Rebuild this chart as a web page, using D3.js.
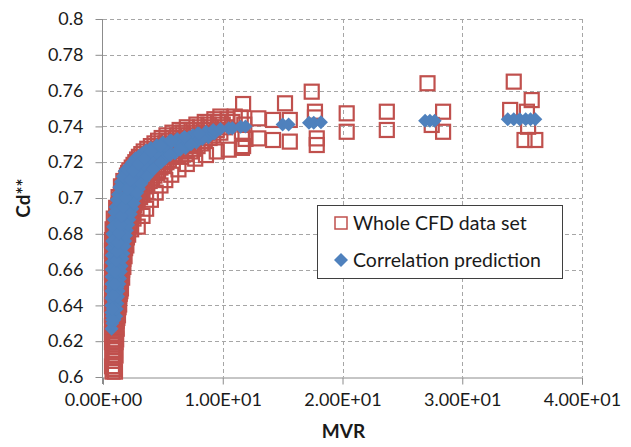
<!DOCTYPE html>
<html>
<head>
<meta charset="utf-8">
<script src="https://cdn.jsdelivr.net/npm/d3@7"></script>
<style>
html,body{margin:0;padding:0;background:#fff;}
svg{display:block;}
text{font-family:Lato,"Open Sans",sans-serif;fill:#1a1a1a;}
</style>
</head>
<body>
<svg id="chart" width="631" height="447"></svg>
<script>
// ---- data ----
const xTicks = [0, 10, 20, 30, 40];
const xTickLabels = ["0.00E+00", "1.00E+01", "2.00E+01", "3.00E+01", "4.00E+01"];
const yTicks = [0.6, 0.62, 0.64, 0.66, 0.68, 0.7, 0.72, 0.74, 0.76, 0.78, 0.8];
const yTickLabels = ["0.6", "0.62", "0.64", "0.66", "0.68", "0.7", "0.72", "0.74", "0.76", "0.78", "0.8"];
const seriesNames = ["Whole CFD data set", "Correlation prediction"];
const xTitle = "MVR";
const yTitle = "Cd**";

// Whole CFD data set (MVR, Cd**)
const cfdX = [
 0.8,1.0, 0.75,0.95, 0.85, 0.8,1.05, 0.78,1.0, 0.9, 0.8,1.1, 0.75,1.0, 0.85,1.15, 0.8,1.05,
 0.9,1.2, 0.78,1.1, 0.95,1.3, 0.8,1.2, 0.9,1.35, 0.78,1.15,1.45, 0.95,1.3, 0.8,1.2,1.5,
 0.9,1.4, 0.78,1.15,1.6, 1.0,1.45, 0.85,1.25,1.7, 0.8,1.05,1.55, 0.9,1.35,1.85,
 0.8,1.15,1.65, 0.95,1.45,2.0, 0.9,1.25,1.8, 1.0,1.55,2.2, 1.05,1.4,1.95, 1.15,1.7,2.4,
 1.2,1.55,2.15, 1.3,1.9,2.6, 1.4,1.75,2.35,2.9, 1.5,2.1,2.75,3.3, 1.6,2.0,2.55,3.1,
 1.8,2.3,3.0,3.7, 1.95,2.6,3.4,4.1, 2.1,2.8,3.6,4.5, 2.4,3.1,3.9,4.8, 2.7,3.5,4.3,5.3,
 3.0,3.9,4.8,5.8,6.5, 3.4,4.3,5.3,6.3,7.3, 4.0,4.9,5.8,6.8,7.9, 4.6,5.5,6.4,7.5,8.5,
 5.3,6.2,7.1,8.2,9.2, 6.4,7.4,8.4,9.5, 7.8,8.8,10.0, 9.3,10.4,
 0.9, 0.95, 0.9, 0.75,1.05, 0.95, 0.75,1.05, 0.85,1.15, 0.75,1.0,1.25, 0.85,1.2, 0.75,1.05,1.35,
 0.85,1.25, 0.75,1.05,1.4, 0.85,1.25,1.5, 0.75,1.05,1.4, 0.85,1.3,1.6, 0.75,1.05,1.5,
 0.9,1.3,1.7, 0.75,1.1,1.55, 0.95,1.4,1.8, 0.75,1.2,1.65, 1.0,1.5,1.95, 0.75,1.3,1.8,
 1.1,1.6,2.1, 0.8,1.4,1.95,2.35, 1.2,1.7,2.3, 0.9,1.5,2.1,2.55, 1.3,1.85,2.5,
 1.1,1.65,2.25,2.8, 1.35,2.0,2.7, 1.3,1.9,2.5,3.1, 1.7,2.3,2.95,3.6, 1.5,2.2,2.8,3.45,
 1.7,2.45,3.2,3.9, 2.0,2.7,3.5,4.3, 2.2,2.95,3.75,4.6, 2.55,3.3,4.1,5.0, 2.85,3.7,4.55,5.5,
 3.2,4.1,5.0,6.0,6.9, 3.7,4.6,5.5,6.5,7.6, 4.3,5.2,6.1,7.1,8.2, 4.9,5.8,6.8,7.8,8.9,
 5.8,6.7,7.7,8.7,9.8, 7.0,8.1,9.0,10.2, 8.5,9.6,10.8, 9.8,11.0,
 2.9,3.3,3.6,4.0,4.4,4.8,5.2,5.7,6.3,7.0,7.7,8.6,9.5,10.5,11.6,
 11.7,11.5,11.8,11.6,11.9,11.7,12.97,12.97,14.2,14.2,15.2,15.6,15.6,17.43,17.7,17.7,17.85,17.85,
 20.35,20.35,23.7,23.7,27.1,27.45,28.4,28.4,34.3,34.0,35.8,35.4,35.2,36.1,35.5
];
const cfdY = [
 0.603,0.603, 0.606,0.606, 0.609, 0.612,0.612, 0.615,0.615, 0.618, 0.621,0.621, 0.624,0.624, 0.627,0.627, 0.630,0.630,
 0.633,0.633, 0.636,0.636, 0.639,0.639, 0.642,0.642, 0.645,0.645, 0.648,0.648,0.648, 0.651,0.651, 0.654,0.654,0.654,
 0.657,0.657, 0.660,0.660,0.660, 0.663,0.663, 0.666,0.666,0.666, 0.669,0.669,0.669, 0.672,0.672,0.672,
 0.675,0.675,0.675, 0.678,0.678,0.678, 0.681,0.681,0.681, 0.684,0.684,0.684, 0.687,0.687,0.687, 0.690,0.690,0.690,
 0.693,0.693,0.693, 0.696,0.696,0.696, 0.699,0.699,0.699,0.699, 0.702,0.702,0.702,0.702, 0.705,0.705,0.705,0.705,
 0.708,0.708,0.708,0.708, 0.711,0.711,0.711,0.711, 0.714,0.714,0.714,0.714, 0.717,0.717,0.717,0.717, 0.720,0.720,0.720,0.720,
 0.723,0.723,0.723,0.723,0.723, 0.726,0.726,0.726,0.726,0.726, 0.729,0.729,0.729,0.729,0.729, 0.732,0.732,0.732,0.732,0.732,
 0.735,0.735,0.735,0.735,0.735, 0.738,0.738,0.738,0.738, 0.741,0.741,0.741, 0.744,0.744,
 0.6045, 0.6105, 0.6165, 0.6195,0.6195, 0.6255, 0.6285,0.6285, 0.6315,0.6315, 0.6345,0.6345,0.6345, 0.6375,0.6375, 0.6405,0.6405,0.6405,
 0.6435,0.6435, 0.6465,0.6465,0.6465, 0.6495,0.6495,0.6495, 0.6525,0.6525,0.6525, 0.6555,0.6555,0.6555, 0.6585,0.6585,0.6585,
 0.6615,0.6615,0.6615, 0.6645,0.6645,0.6645, 0.6675,0.6675,0.6675, 0.6705,0.6705,0.6705, 0.6735,0.6735,0.6735, 0.6765,0.6765,0.6765,
 0.6795,0.6795,0.6795, 0.6825,0.6825,0.6825,0.6825, 0.6855,0.6855,0.6855, 0.6885,0.6885,0.6885,0.6885, 0.6915,0.6915,0.6915,
 0.6945,0.6945,0.6945,0.6945, 0.6975,0.6975,0.6975, 0.7005,0.7005,0.7005,0.7005, 0.7035,0.7035,0.7035,0.7035, 0.7065,0.7065,0.7065,0.7065,
 0.7095,0.7095,0.7095,0.7095, 0.7125,0.7125,0.7125,0.7125, 0.7155,0.7155,0.7155,0.7155, 0.7185,0.7185,0.7185,0.7185, 0.7215,0.7215,0.7215,0.7215,
 0.7245,0.7245,0.7245,0.7245,0.7245, 0.7275,0.7275,0.7275,0.7275,0.7275, 0.7305,0.7305,0.7305,0.7305,0.7305, 0.7335,0.7335,0.7335,0.7335,0.7335,
 0.7365,0.7365,0.7365,0.7365,0.7365, 0.7395,0.7395,0.7395,0.7395, 0.7425,0.7425,0.7425, 0.7455,0.7455,
 0.684,0.690,0.694,0.699,0.703,0.707,0.710,0.713,0.716,0.719,0.722,0.724,0.726,0.727,0.728,
 0.7525,0.745,0.741,0.737,0.733,0.729,0.7445,0.7333,0.7436,0.7324,0.7529,0.7436,0.7315,0.7594,0.7482,0.745,0.7333,0.7296,
 0.7473,0.737,0.7482,0.738,0.7641,0.7408,0.7482,0.737,0.765,0.7492,0.7547,0.7482,0.7324,0.7324,0.7398
];

// Correlation prediction (MVR, Cd**)
const predX = [
 0.72,0.78,0.75,0.85,0.78,0.92,0.8,0.98,0.85,1.05,0.9,1.1,0.95,1.18,1.0,1.25,1.08,1.33,1.15,1.42,
 1.25,1.52,1.35,1.62,1.48,1.75,1.62,1.9,1.8,2.1,2.0,2.35,2.3,2.65,2.7,3.05,3.2,3.6,3.8,4.3,
 4.6,5.1,5.5,6.1,6.6,7.2,7.9,8.6,10.5,10.8,11.5,11.9,15.0,15.5,17.2,17.6,18.2,26.9,27.3,27.7,
 33.8,34.3,34.8,35.3,35.7,36.1,
 0.95,1.05,1.12,1.2,1.28,1.38,1.48,1.6,1.72,1.88,2.05,2.25,2.5,2.8,3.15,3.55,4.0,4.6,5.3,
 0.7,0.7,0.72,0.72,0.75,0.8,0.9,1.05,1.25,1.5,1.8,2.2,2.7,3.3,4.0,5.0,6.2,7.5,
 1.1,1.2,1.3,1.42,1.55,1.7,1.85,2.0,2.2,2.45,2.7,3.0,3.4,3.9,4.5,5.2,6.0,6.9,7.8,8.8,
 0.7,0.7,0.71,0.72,0.73,0.77,0.85,0.97,1.15,1.37,1.65,2.0,2.45,3.0,3.6,4.5,5.6,6.8,
 1.15,1.25,1.36,1.48,1.62,1.78,1.92,2.1,2.32,2.58,2.85,3.2,3.65,4.2,4.85,5.6,6.45,7.35,8.3,9.3,
 0.76,0.82,0.88,0.94,1.0,1.08,1.16,1.24,1.34,1.44,1.56,1.7,1.86,2.05,2.28,2.55,2.95,3.4,4.0,4.8,5.7,6.8,8.0,9.2,9.8
];
const predY = [
 0.627,0.630,0.634,0.636,0.640,0.642,0.645,0.648,0.650,0.653,0.656,0.658,0.661,0.663,0.666,0.668,0.671,0.673,0.676,0.678,
 0.681,0.683,0.686,0.688,0.691,0.693,0.696,0.698,0.701,0.703,0.706,0.708,0.711,0.713,0.716,0.717,0.719,0.721,0.723,0.725,
 0.727,0.728,0.730,0.731,0.733,0.734,0.736,0.737,0.739,0.739,0.7398,0.740,0.741,0.741,0.742,0.742,0.7423,0.7432,0.7432,0.7432,
 0.744,0.744,0.744,0.744,0.744,0.744,
 0.632,0.638,0.644,0.650,0.656,0.662,0.668,0.674,0.680,0.686,0.692,0.698,0.704,0.709,0.714,0.718,0.722,0.725,0.728,
 0.640,0.648,0.656,0.664,0.672,0.680,0.688,0.695,0.702,0.709,0.715,0.718,0.722,0.725,0.728,0.731,0.733,0.735,
 0.634,0.641,0.648,0.655,0.662,0.669,0.676,0.682,0.688,0.694,0.700,0.705,0.710,0.714,0.718,0.722,0.725,0.728,0.731,0.734,
 0.636,0.644,0.652,0.660,0.668,0.676,0.684,0.692,0.699,0.706,0.712,0.716,0.720,0.7235,0.7265,0.7295,0.732,0.734,
 0.638,0.645,0.652,0.659,0.666,0.673,0.679,0.685,0.691,0.697,0.703,0.708,0.712,0.716,0.720,0.724,0.727,0.730,0.733,0.736,
 0.632,0.638,0.646,0.652,0.659,0.665,0.670,0.675,0.680,0.685,0.690,0.695,0.700,0.705,0.710,0.715,0.719,0.722,0.726,0.729,0.732,0.734,0.736,0.738,0.7385
];

// ---- layout ----
const svg = d3.select("#chart");
const L = 103, R = 582, T = 19, B = 377;
const x = d3.scaleLinear().domain([0, 40]).range([L, R]);
const y = d3.scaleLinear().domain([0.6, 0.8]).range([B, T]);
const red = "#c0504d", blue = "#4f81bd", gridC = "#a6a6a6", axisC = "#8c8c8c";

// gridlines
const g = svg.append("g");
g.selectAll("line.hg").data(yTicks.filter(v => v > 0.6)).enter().append("line")
  .attr("x1", L).attr("x2", R).attr("y1", d => Math.round(y(d)) + 0.5).attr("y2", d => Math.round(y(d)) + 0.5)
  .attr("stroke", gridC).attr("stroke-width", 1).attr("stroke-dasharray", "4,3");
g.selectAll("line.vg").data(xTicks.filter(v => v > 0)).enter().append("line")
  .attr("y1", T).attr("y2", B).attr("x1", d => Math.round(x(d)) + 0.5).attr("x2", d => Math.round(x(d)) + 0.5)
  .attr("stroke", gridC).attr("stroke-width", 1).attr("stroke-dasharray", "4,3");

// axes
const xAxis = d3.axisBottom(x).tickValues(xTicks).tickFormat((d, i) => xTickLabels[i]).tickSizeOuter(0).tickSize(7).tickPadding(9);
const yAxis = d3.axisLeft(y).tickValues(yTicks).tickFormat((d, i) => yTickLabels[i]).tickSizeOuter(0).tickSize(7).tickPadding(12);
const gx = svg.append("g").attr("transform", `translate(0,${B + 0.5})`).call(xAxis);
const gy = svg.append("g").attr("transform", `translate(${L - 0.5},0)`).call(yAxis);
[gx, gy].forEach(a => {
  a.selectAll("path,line").attr("stroke", axisC);
  a.selectAll("text").style("font-family", "Lato, sans-serif").style("font-size", "18px").attr("fill", "#1a1a1a");
});
gy.select("path.domain").attr("d", `M0,${T}V${B + 7}`);

// CFD squares
const s = 14;
svg.append("g").selectAll("rect").data(cfdX.map((v, i) => [v, cfdY[i]])).enter().append("rect")
  .attr("x", d => x(d[0]) - s / 2).attr("y", d => y(d[1]) - s / 2)
  .attr("width", s).attr("height", s)
  .attr("fill", "none").attr("stroke", red).attr("stroke-width", 2.2);

// prediction diamonds
const dm = 7;
svg.append("g").selectAll("path").data(predX.map((v, i) => [v, predY[i]])).enter().append("path")
  .attr("d", d => { const cx = x(d[0]), cy = y(d[1]); return `M${cx},${cy - dm}L${cx + dm},${cy}L${cx},${cy + dm}L${cx - dm},${cy}Z`; })
  .attr("fill", blue);

// axis titles
svg.append("text").attr("x", (L + R) / 2 + 1).attr("y", 438).attr("text-anchor", "middle")
  .style("font-size", "19px").style("font-weight", "bold").text(xTitle);
svg.append("text").attr("transform", `translate(30,${(T + B) / 2}) rotate(-90)`).attr("text-anchor", "middle")
  .style("font-size", "19px").style("font-weight", "bold").text(yTitle);

// legend
const lg = svg.append("g");
lg.append("rect").attr("x", 317.5).attr("y", 205.5).attr("width", 245).attr("height", 73)
  .attr("fill", "#fff").attr("stroke", "#3f3f3f").attr("stroke-width", 1);
lg.append("rect").attr("x", 335).attr("y", 217).attr("width", 12).attr("height", 12)
  .attr("fill", "none").attr("stroke", red).attr("stroke-width", 1.5);
lg.append("path").attr("d", `M341,253L348,260L341,267L334,260Z`).attr("fill", blue);
lg.append("text").attr("x", 353).attr("y", 229.5).style("font-size", "19.5px").text(seriesNames[0]);
lg.append("text").attr("x", 353).attr("y", 266.5).style("font-size", "19.5px").text(seriesNames[1]);
</script>
</body>
</html>
